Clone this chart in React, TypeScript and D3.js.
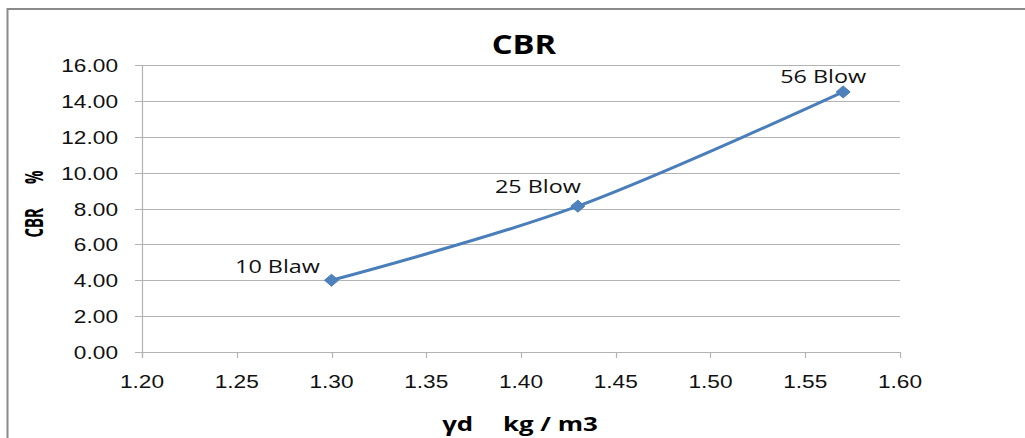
import React from "react";
import * as d3 from "d3";

// Dry density (kg/m3 axis) and CBR % for the three compaction efforts
const density = [1.3, 1.43, 1.57];
const cbr = [4.0, 8.13, 14.5];
const pointLabels = ["10 Blaw", "25 Blow", "56 Blow"];

const xTicks = [1.2, 1.25, 1.3, 1.35, 1.4, 1.45, 1.5, 1.55, 1.6];
const yTicks = [0, 2, 4, 6, 8, 10, 12, 14, 16];

const W = 1025;
const H = 438;
const plot = { left: 142, right: 900, top: 65, bottom: 352 };

// label placement relative to each marker (dx to label centre, dy to baseline)
const labelOffsets = [
  { dx: -54, dy: -7 },
  { dx: -40, dy: -13 },
  { dx: -20, dy: -9 },
];

const LINE = "#4a7ebb";
const GRID = "#b3b3b3";
const SX = 1.26; // horizontal stretch applied to text

export default function App() {
  const x = d3.scaleLinear().domain([1.2, 1.6]).range([plot.left, plot.right]);
  const y = d3.scaleLinear().domain([0, 16]).range([plot.bottom, plot.top]);

  const pts = density.map((d, i) => [x(d), y(cbr[i])] as [number, number]);
  const line = d3.line().curve(d3.curveCatmullRom.alpha(0))(pts) || "";

  const diamond = (cx: number, cy: number) =>
    `M${cx},${cy - 6}L${cx + 7},${cy}L${cx},${cy + 6}L${cx - 7},${cy}Z`;

  return (
    <svg
      width={W}
      height={H}
      style={{ position: "absolute", left: 0, top: 0, background: "#fff" }}
    >
      {/* outer chart frame */}
      <rect x={7.5} y={9} width={W + 10} height={H + 10} fill="#fff" stroke="#8a8a8a" strokeWidth={2} />

      {/* horizontal gridlines with outward ticks */}
      {yTicks.map((t) => (
        <line key={"g" + t} x1={plot.left - 7} x2={plot.right} y1={Math.round(y(t)) + 0.5} y2={Math.round(y(t)) + 0.5} stroke={GRID} strokeWidth={1.2} />
      ))}
      {/* vertical axis line */}
      <line x1={plot.left + 0.5} x2={plot.left + 0.5} y1={plot.top} y2={plot.bottom + 6} stroke={GRID} strokeWidth={1.2} />
      {/* x tick marks */}
      {xTicks.map((t) => (
        <line key={"xt" + t} x1={Math.round(x(t)) + 0.5} x2={Math.round(x(t)) + 0.5} y1={plot.bottom} y2={plot.bottom + 6} stroke={GRID} strokeWidth={1.2} />
      ))}

      {/* y tick labels */}
      {yTicks.map((t) => (
        <text
          key={"yl" + t}
          transform={`translate(118,${y(t) + 7}) scale(${SX},1)`}
          textAnchor="end"
          fontFamily="'Liberation Sans', Arial, sans-serif"
          fontSize={18}
          fill="#111"
        >
          {t.toFixed(2)}
        </text>
      ))}

      {/* x tick labels */}
      {xTicks.map((t) => (
        <text
          key={"xl" + t}
          transform={`translate(${x(t)},388) scale(${SX},1)`}
          textAnchor="middle"
          fontFamily="'Liberation Sans', Arial, sans-serif"
          fontSize={18}
          fill="#111"
        >
          {t.toFixed(2)}
        </text>
      ))}

      {/* series */}
      <path d={line} fill="none" stroke={LINE} strokeWidth={3} strokeLinejoin="round" />
      {pts.map(([px, py], i) => (
        <path key={"m" + i} d={diamond(px, py)} fill="#4f81bd" stroke={LINE} strokeWidth={1} />
      ))}

      {/* data labels */}
      {pts.map(([px, py], i) => (
        <text
          key={"dl" + i}
          transform={`translate(${px + labelOffsets[i].dx},${py + labelOffsets[i].dy}) scale(1.23,1)`}
          textAnchor="middle"
          fontFamily="'Open Sans', sans-serif"
          fontSize={19}
          fill="#111"
        >
          {pointLabels[i]}
        </text>
      ))}

      {/* chart title */}
      <text
        transform={`translate(524,54) scale(${SX},1)`}
        textAnchor="middle"
        fontFamily="'Open Sans', sans-serif"
        fontWeight="bold"
        fontSize={26}
        fill="#000"
      >
        CBR
      </text>

      {/* axis titles */}
      <text
        transform={`translate(520,431) scale(1.36,1)`}
        textAnchor="middle"
        fontFamily="'Open Sans', sans-serif"
        fontWeight="bold"
        fontSize={19}
        fill="#000"
      >
        γd
        <tspan dx={22}>kg / m3</tspan>
      </text>
      <text
        transform={`translate(43,204) rotate(-90) scale(1,1.7)`}
        textAnchor="middle"
        fontFamily="'Open Sans', sans-serif"
        fontWeight="bold"
        fontSize={15}
        fill="#000"
      >
        CBR
        <tspan dx={24}>%</tspan>
      </text>
    </svg>
  );
}
